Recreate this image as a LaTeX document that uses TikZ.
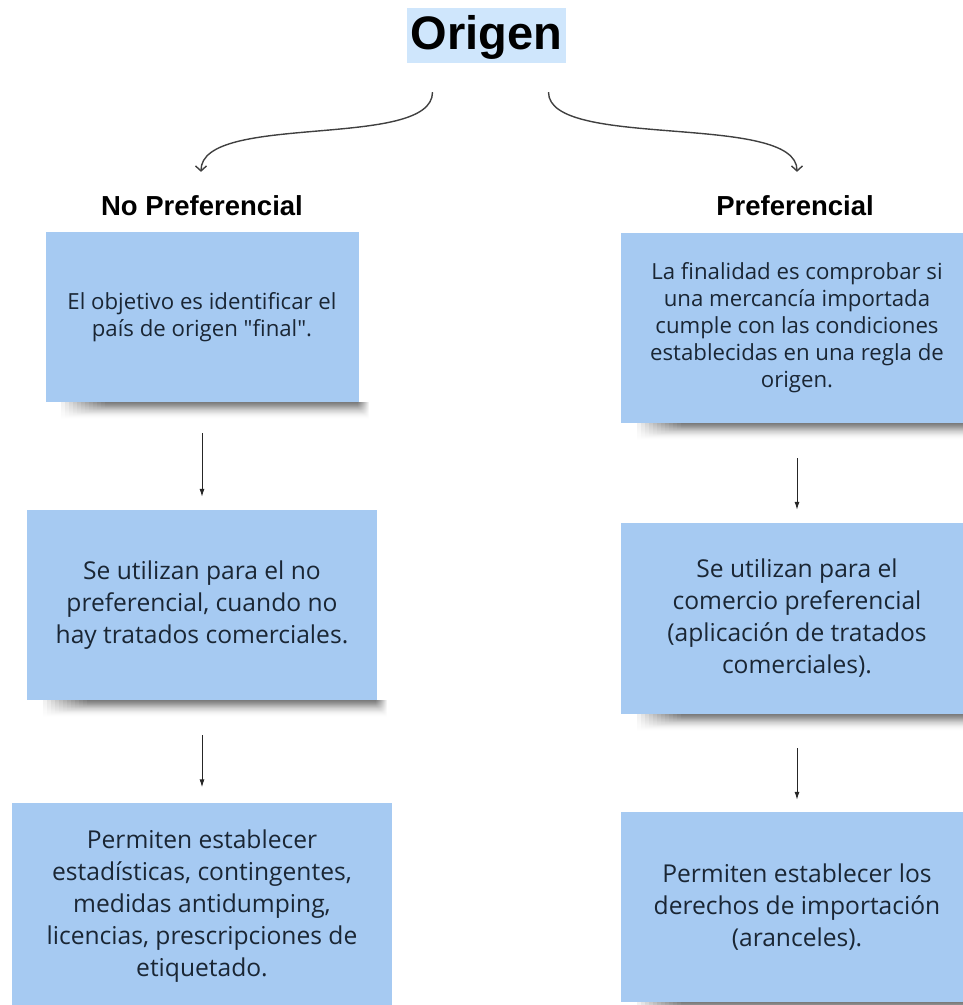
\documentclass[tikz,border=0pt]{standalone}
\usepackage{fontspec}
\setmainfont{Open Sans}
\newfontfamily\bodyfont{Open Sans}
\newfontfamily\headfont{Liberation Sans}
\usetikzlibrary{positioning, arrows.meta, fadings}

\definecolor{boxblue}{HTML}{A6CAF2}
\definecolor{titleblue}{HTML}{CFE6FC}
\definecolor{boxtext}{HTML}{1A2634}

\begin{document}
\begin{tikzpicture}[x=1pt, y=-1pt, on grid,
    box/.style={fill=boxblue, text=boxtext, align=center, inner sep=0pt},
    bigtext/.style={font=\bodyfont\fontsize{24.6}{32}\selectfont},
    smalltext/.style={font=\bodyfont\fontsize{22.2}{27}\selectfont},
    heading/.style={font=\headfont\bfseries\fontsize{27.5}{30}\selectfont, anchor=base, inner sep=0pt},
    flow/.style={-{Latex[length=8pt,width=5pt]}, line width=1pt, draw=black!85},
    branch/.style={-{Straight Barb[length=5pt,width=11pt]}, line width=1.4pt, draw=black!75}]

  \useasboundingbox (0,0) rectangle (963,1005);
  \clip (0,0) rectangle (963,1005);

  % Title
  \node[fill=titleblue, font=\headfont\bfseries\fontsize{47}{50}\selectfont,
        text height=38pt, text depth=11pt, inner xsep=4pt, inner ysep=3pt] (origen) at (486.5,35.5) {Origen};

  % Headings
  \node[heading] (np) at (202,215) {No Preferencial};
  \node[heading] (pref) at (795,215) {Preferencial};

  % Left column
  \node[box, smalltext, minimum width=313pt, minimum height=170pt] (n1) at (202,317)
    {El objetivo es identificar el\\país de origen "final".};
  \node[box, bigtext, minimum width=350pt, minimum height=190pt, below=288pt of n1] (n2)
    {Se utilizan para el no\\preferencial, cuando no\\hay tratados comerciales.};
  \node[box, bigtext, minimum width=380pt, minimum height=207pt, below=301pt of n2] (n3)
    {Permiten establecer\\estadísticas, contingentes,\\medidas antidumping,\\licencias, prescripciones de\\etiquetado.};

  % Right column
  \node[box, smalltext, minimum width=352pt, minimum height=190pt] (p1) at (797,328)
    {La finalidad es comprobar si\\una mercancía importada\\cumple con las condiciones\\establecidas en una regla de\\origen.};
  \node[box, bigtext, minimum width=352pt, minimum height=191pt, below=290.5pt of p1] (p2)
    {Se utilizan para el\\comercio preferencial\\(aplicación de tratados\\comerciales).};
  \node[box, bigtext, minimum width=352pt, minimum height=190pt, below=288.5pt of p2] (p3)
    {Permiten establecer los\\derechos de importación\\(aranceles).};

  % Soft shadows under the boxes
  \foreach \b in {n1,n2,n3,p1,p2,p3}
    \foreach \k in {0,...,11}
      \fill[black, path fading=south, opacity=0.06]
        ([xshift=16pt+4*\k pt]\b.south west) rectangle ([xshift=10pt-1*\k pt,yshift=-17pt+1*\k pt]\b.south east);

  % Branches from the title
  \coordinate (ls) at ([xshift=-54pt,yshift=-29pt]origen.south);
  \coordinate (rs) at ([xshift=62pt,yshift=-29pt]origen.south);
  \draw[branch] (ls) .. controls +(0,58) and +(0,-60) .. ([xshift=-1pt,yshift=23pt]np.north);
  \draw[branch] (rs) .. controls +(0,58) and +(0,-60) .. ([xshift=2pt,yshift=23pt]pref.north);

  % Vertical flow
  \draw[flow, shorten <=31pt, shorten >=13pt] (n1.south) -- (n2.north);
  \draw[flow, shorten <=35pt, shorten >=15pt] (n2.south) -- (n3.north);
  \draw[flow, shorten <=35pt, shorten >=13pt] (p1.south) -- (p2.north);
  \draw[flow, shorten <=34pt, shorten >=12pt] (p2.south) -- (p3.north);

\end{tikzpicture}
\end{document}
